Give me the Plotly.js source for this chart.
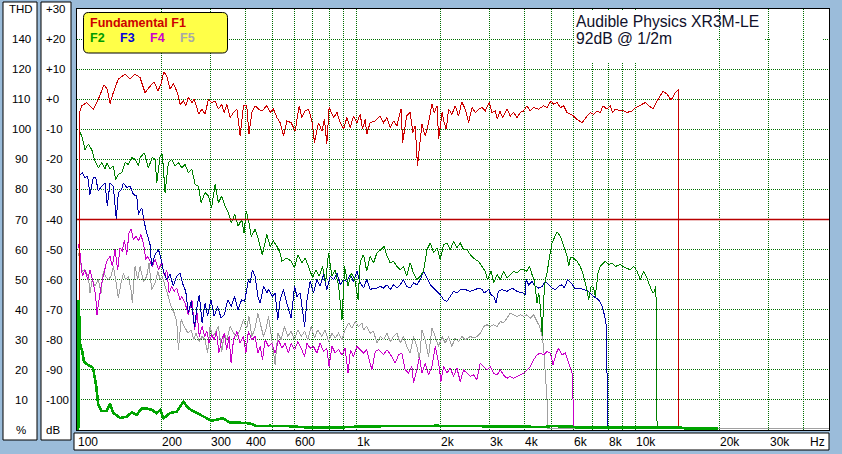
<!DOCTYPE html>
<html><head><meta charset="utf-8">
<script src="https://cdn.plot.ly/plotly-3.0.1.min.js"></script>
<style>html,body{margin:0;padding:0;background:#9bbcda;}#chart{width:842px;height:454px;}
.gridlayer path{shape-rendering:crispEdges !important;}
.scatterlayer path.js-line{shape-rendering:crispEdges;}</style>
</head><body><div id="chart"></div>
<script>
// ---- data: [frequency Hz, level dB] ----
const F1 = [[102,-67],[102.5,-3.9],[104,-2.2],[108.3,-1.1],[114.4,-3.3],[119.2,0],[125,4.8],[128.4,3.3],[131.3,-1.4],[134.9,2.2],[140.6,6.7],[148.6,8.3],[154.9,6.7],[161.4,8.3],[168.2,7.2],[175.3,2.2],[181.1,3.9],[188.8,5.8],[194.9,2.8],[200,5],[204.6,9.1],[209.7,7.8],[215.4,3.3],[221.4,5.3],[228.9,2.2],[233.9,-1.7],[240.5,-0.6],[245.2,-2.2],[250.6,0.6],[258,-1.1],[263,0],[273,-5],[280,-3.3],[287.6,-5],[295.5,0],[303.6,-1.1],[312.3,-0.6],[321,-3.3],[330,-1.7],[336.5,-4.4],[344,-1.7],[353.5,-6.1],[363.5,-4.4],[374,-3.3],[384,-12.2],[394.6,-2.2],[405.6,-2.2],[413,-11.7],[422.8,-4.4],[434.5,-2.2],[446.7,-3.3],[459.3,-3.9],[478.6,-2.2],[491.8,-4.4],[505.5,-3.3],[520,-6.1],[534,-7.8],[549,-12.2],[564.5,-7.2],[585,-7.8],[604.5,-10.6],[624.8,-2.2],[639,-6.1],[656.5,-3.9],[674.8,-3.3],[694,-7.2],[709,-14.4],[733,-7.8],[753.6,-10.6],[770,-6.7],[785,-15],[800,-2.8],[830,-6.1],[854,-4.4],[876,-7.8],[900.6,-10],[926,-6.1],[951.7,-9.4],[978,-5.6],[1006,-7.8],[1034,-5],[1053,-10],[1077,-6.7],[1091,-11.7],[1122,-7.8],[1170,-7.2],[1219,-5.6],[1253,-7.8],[1289,-6.1],[1324,-9.4],[1361,-7.2],[1399,-8.9],[1447,-3.3],[1467,-14.4],[1516,-5.6],[1561,-4.4],[1596,-11.1],[1627,-8.9],[1658,-22.2],[1686,-15.6],[1720,-8.3],[1767,-12.2],[1816,-7.8],[1868,-1.7],[1904,-4.4],[1948,-2.2],[1974,-13.3],[2031,-4.4],[2067,-7.8],[2102,-10],[2143,-3.3],[2202,-5],[2263,-2.2],[2326,-5.6],[2390,-0.9],[2458,-3.3],[2527,-7.8],[2599,-2.8],[2670,-4.4],[2744,-3.3],[2821,-2.8],[2899,-3.9],[3000,-0.9],[3058,-4.4],[3149,-3.9],[3203,-6.7],[3273,-3.9],[3341,-6.1],[3469,-3.3],[3564,-5.6],[3665,-4.4],[3770,-6.1],[3870,-4.4],[3978,-3.9],[4090,-2.2],[4204,-3.9],[4321,-2.8],[4500,-3.3],[4690,-2.2],[4820,-2.8],[4987,-0.6],[5097,-1.7],[5240,-1.1],[5384,-2.8],[5535,-2.2],[5690,-4.4],[5847,-5],[6010,-5.6],[6180,-6.7],[6440,-7.8],[6710,-5.6],[6896,-4.4],[7090,-5],[7290,-3.9],[7489,-4.4],[7655,-2.2],[7910,-3.3],[8133,-2.2],[8290,-4.4],[8475,-3.3],[8833,-3.9],[9080,-3.9],[9340,-4.4],[9730,-3.9],[10000,-2.8],[10420,-2],[10860,-1.1],[11160,-2.2],[11580,-3.1],[11960,-0.6],[12560,2.6],[12990,1.7],[13430,-0.3],[13910,2.2],[14300,3.3],[14330,-109]];

const F2 = [[101.7,-10.5],[104,-12.2],[106.8,-16.7],[109.8,-15],[112.9,-16.7],[116,-20.6],[119.2,-22.8],[122.6,-21.1],[126,-23.3],[127.8,-21.1],[131.3,-23.3],[134.9,-22.2],[137.6,-26.7],[140.6,-25],[144.6,-24.4],[148.6,-21.1],[152.7,-21.7],[157.1,-19.4],[161.4,-20],[166,-22.2],[168.2,-19.4],[174.3,-17.8],[180.1,-22.8],[186.1,-19.4],[190.4,-20],[193.1,-27.8],[198.4,-18.9],[202.2,-18.3],[206.8,-31.1],[212.5,-21.1],[218.5,-20],[224.5,-22.2],[230.8,-21.1],[237.3,-22.8],[243.8,-21.7],[250.6,-24.4],[257.9,-23.3],[264.8,-28.3],[272.2,-28.9],[278.2,-34.4],[287.6,-31.1],[295.5,-32.2],[303.6,-36.1],[312.3,-28.3],[321,-34.4],[330,-32.2],[339.3,-35.6],[348.8,-37.8],[357.2,-41.1],[367.4,-38.3],[377.7,-42.2],[388.8,-40],[396.4,-44.4],[404.2,-37.2],[412.8,-41.1],[420.8,-45.6],[434.5,-43.3],[446.7,-46.7],[461,-51.7],[478.6,-45],[491.8,-48.9],[505.5,-47.2],[520,-48.9],[534,-51.1],[541.6,-53.9],[564.5,-52.8],[585,-53.9],[601.5,-56.1],[618,-51.7],[639,-54.4],[656.5,-52.8],[674.8,-55.6],[697.7,-59.4],[718,-56.7],[737,-58.9],[757,-55.6],[778,-60.6],[796,-51.1],[819,-58.9],[840.9,-56.7],[865,-62.2],[889.5,-73.3],[909,-55.6],[935,-62.2],[960,-57.8],[988,-60],[1016,-66.7],[1034,-53.9],[1062,-51.7],[1091,-57.2],[1122,-52.2],[1154,-54.4],[1186,-51.1],[1226,-50],[1259,-48.9],[1289,-52.2],[1324,-54.4],[1361,-53.9],[1399,-55.6],[1438,-56.7],[1478,-55.6],[1516,-58.9],[1561,-54.4],[1604,-57.8],[1649,-60],[1696,-58.9],[1743,-57.2],[1793,-50],[1842,-47.8],[1893,-51.1],[1948,-49.4],[2000,-53.3],[2057,-48.3],[2114,-47.8],[2172,-50],[2233,-47.2],[2295,-49.4],[2359,-47.8],[2424,-50],[2492,-50],[2562,-51.7],[2670,-53.3],[2744,-53.9],[2821,-55.6],[2899,-57.2],[2955,-60],[3043,-57.2],[3110,-61.1],[3197,-58.3],[3281,-60],[3372,-57.2],[3469,-59.4],[3564,-58.3],[3665,-57.2],[3770,-57.8],[3870,-56.7],[3978,-56.7],[4090,-57.2],[4179,-55.6],[4263,-58.3],[4345,-60],[4443,-67.8],[4505,-64.4],[4565,-68.9],[4642,-78.9],[4690,-66.7],[4757,-60],[4825,-57.8],[4930,-52.2],[5030,-47.8],[5240,-44.1],[5384,-45.6],[5535,-48.9],[5690,-52.2],[5770,-55.6],[5847,-52.8],[6010,-52.8],[6180,-53.9],[6350,-55.6],[6530,-58.9],[6710,-63.3],[6800,-66.7],[6940,-62.2],[7090,-62.8],[7186,-65.6],[7350,-57.8],[7489,-55.6],[7804,-53.9],[8020,-55],[8250,-54.4],[8475,-55.6],[8833,-55],[9209,-56.1],[9597,-56.7],[9860,-55.6],[10140,-57.2],[10420,-60],[10700,-57.2],[10940,-58.9],[11160,-61.1],[11470,-63.9],[11620,-64.4],[11850,-62.2],[11880,-85.6],[11960,-109]];

const F3 = [[101.7,-25.6],[104.5,-24.4],[106.8,-26.1],[109.2,-25.6],[111.3,-31.7],[114.4,-26.1],[116.7,-26.1],[119.2,-30.6],[122.6,-28.9],[126,-27.8],[128.4,-35.6],[131.3,-27.8],[134.9,-28.9],[138.3,-40],[140.6,-31.1],[144.6,-30],[146.6,-27.8],[150.7,-29.4],[154.9,-28.9],[159.2,-31.7],[163.7,-32.2],[166,-38.3],[170.6,-36.1],[174.3,-41.1],[177.7,-44.4],[182.6,-48.3],[185.1,-55.6],[190.4,-51.7],[195.8,-50],[200.3,-53.3],[204,-57.2],[209.7,-60],[215.4,-58.3],[221.4,-62.2],[227.6,-58.9],[233.9,-57.8],[238.5,-61.1],[245.2,-63.9],[250.6,-71.1],[256.3,-67.2],[263.7,-75.6],[269.1,-68.9],[274.2,-65],[280.6,-74.4],[287.6,-67.8],[293.6,-72.2],[301.8,-66.7],[310,-72.2],[318.7,-68.9],[328.2,-72.8],[337,-71.7],[346.6,-66.7],[356.5,-68.9],[366.5,-65.6],[377.5,-70],[388.8,-66.7],[398,-67.2],[405.6,-63.3],[411,-60],[417,-61.1],[425,-56.7],[434.5,-58.9],[444.4,-65.6],[452.9,-67.8],[465.7,-62.2],[478.6,-64.4],[485,-63.3],[501,-65.6],[512.5,-64.4],[524,-73.3],[534,-66.7],[549,-63.3],[564.5,-67.8],[585,-72.8],[601.5,-62.2],[613.5,-65.6],[630,-64.4],[653.5,-75.6],[666.5,-66.7],[684,-60.6],[703,-64.4],[723,-60],[743,-62.2],[764,-58.3],[785,-63.3],[807,-58.9],[830,-60],[854,-57.8],[876,-61.7],[900.6,-60],[926,-60.6],[951.7,-58.3],[978,-60.6],[1006,-57.2],[1034,-61],[1062,-62.8],[1091,-60],[1122,-63.3],[1154,-62.8],[1186,-62.8],[1219,-62.2],[1253,-62.8],[1289,-61.7],[1324,-63.3],[1361,-61.7],[1399,-62.8],[1438,-61.7],[1478,-60],[1516,-62.2],[1561,-62.8],[1604,-61.1],[1649,-61.7],[1696,-60],[1743,-57.2],[1793,-59.4],[1842,-61.7],[1919,-63.3],[2000,-65],[2057,-66.7],[2114,-67.2],[2172,-65.6],[2233,-63.9],[2295,-64.4],[2359,-63.3],[2458,-63.3],[2562,-63.9],[2670,-63.3],[2744,-62.8],[2821,-63.3],[2876,-64.4],[2981,-63.3],[3043,-65],[3110,-65.6],[3170,-67.8],[3231,-63.9],[3320,-63.3],[3469,-63.9],[3623,-62.8],[3770,-63.9],[3944,-64.4],[4025,-65],[4060,-60],[4145,-61.7],[4263,-60.6],[4381,-62.2],[4505,-62.8],[4633,-62.2],[4757,-60.6],[4890,-61.7],[5030,-62.8],[5167,-63.3],[5310,-62.2],[5460,-61.7],[5565,-62.8],[5720,-60],[5890,-61.1],[6060,-62.8],[6290,-62.8],[6530,-63.3],[6800,-63.9],[7090,-65.6],[7390,-66.7],[7600,-68.9],[7770,-72.2],[7880,-75.6],[7920,-93.9],[7980,-109]];

const F4 = [[101.1,-48.3],[102.5,-51.1],[104.5,-58.9],[106.8,-56.7],[109.2,-60],[111.3,-56.7],[114.4,-61.1],[116.7,-65.6],[117.9,-71.7],[119.9,-66.7],[122.6,-61.1],[125.3,-57.2],[127.8,-53.9],[131.3,-52.2],[133.8,-55.6],[136.8,-50],[139.9,-56.7],[142.6,-49.4],[145.3,-50.6],[147.8,-46.7],[150.7,-51.7],[153.6,-44.4],[156.1,-43.1],[159.2,-46.7],[162.7,-45.6],[166,-47.2],[169.2,-45],[172.9,-47.8],[176.4,-53.3],[179.3,-52.2],[182.6,-53.9],[186.1,-55.6],[190.4,-53.3],[195.8,-56.7],[201.4,-54.4],[205.8,-58.9],[209.7,-56.7],[213.8,-64.4],[218.5,-62.2],[223,-63.9],[227.6,-62.8],[233.9,-66.7],[237.3,-65.6],[243.8,-67.8],[250.6,-71.7],[257.9,-66.7],[263.7,-76.7],[269.1,-71.1],[274.2,-78.9],[280.6,-75.6],[286.4,-78.9],[291.9,-77.2],[297.2,-81.1],[303.6,-78.3],[310,-80],[316,-77.2],[322.2,-84.4],[330,-80],[337,-77.8],[344,-83.3],[350.5,-78.9],[356.5,-87.8],[363.5,-80],[374,-77.2],[384,-81.1],[394.6,-78.9],[402.5,-84.4],[411,-77.2],[422.8,-80],[434.5,-78.9],[444.4,-84.4],[452.9,-82.2],[461.6,-86.7],[471.9,-80],[485,-82.2],[498.6,-81.1],[512.5,-84.4],[527,-80],[541.6,-82.8],[556.6,-81.1],[572,-84.4],[585,-81.1],[601.5,-83.3],[618,-80.6],[635,-82.8],[653.5,-85.6],[666.5,-81.1],[684,-82.8],[703,-82.2],[723,-84.4],[743,-81.1],[764,-83.9],[785,-82.8],[800,-88.9],[819,-82.2],[840.9,-84.4],[865,-83.3],[889.5,-85],[913,-82.8],[935,-91.1],[954,-83.3],[978,-85.6],[1006,-82.2],[1034,-83.3],[1062,-84.4],[1091,-83.3],[1138,-90],[1170,-83.9],[1202,-83.3],[1253,-85],[1289,-83.3],[1343,-85.6],[1380,-87.8],[1418,-85],[1457,-84.4],[1498,-90],[1540,-91.1],[1583,-88.9],[1604,-94.4],[1649,-90],[1685,-85.6],[1720,-91.1],[1767,-87.8],[1816,-91.7],[1868,-88.9],[1919,-82.2],[1974,-87.8],[2011,-93.9],[2057,-88.9],[2114,-91.1],[2172,-89.4],[2233,-92.2],[2295,-89.4],[2359,-93.9],[2424,-90],[2492,-91.1],[2562,-92.2],[2633,-91.7],[2707,-93.3],[2782,-87.8],[2860,-88.9],[2940,-90],[3022,-88.9],[3110,-91.1],[3197,-91.7],[3281,-90],[3372,-91.7],[3469,-92.8],[3564,-92.2],[3665,-92.8],[3770,-92.2],[3870,-91.7],[3978,-91.1],[4090,-90],[4204,-88.9],[4321,-86.7],[4443,-85],[4565,-84.4],[4690,-85],[4825,-83.9],[4958,-84.4],[5070,-88.3],[5210,-84.4],[5310,-82.8],[5460,-85],[5611,-84.4],[5770,-87.8],[5930,-91.1],[5980,-100],[6000,-109]];

const F5 = [[101.1,-51.1],[102.5,-53.3],[104.5,-57.2],[106.8,-56.7],[109.8,-58.9],[111.3,-64.4],[113.5,-60],[116,-62.2],[119.2,-60],[121.9,-64.4],[124.2,-57.2],[126.7,-58.9],[129.5,-60],[132.4,-58.9],[134.9,-55.6],[137.6,-60],[140.6,-66.1],[143.8,-61.1],[146.6,-57.8],[149.5,-60],[152.7,-58.9],[156.1,-63.3],[157.8,-67.8],[161.4,-55.6],[164.9,-60],[168.2,-55.6],[172.9,-60.6],[177.7,-58.9],[181.1,-54.4],[185.1,-63.3],[190.4,-61.1],[194.9,-57.2],[198.4,-60],[202.2,-58.9],[206.8,-62.2],[211.4,-65],[217.3,-68.9],[223,-71.1],[227.6,-73.9],[230.8,-83.3],[236,-73.3],[242.4,-75.6],[249.6,-77.8],[256.3,-76.7],[261.6,-80],[266.8,-77.8],[274.2,-80.6],[280.6,-78.9],[287.6,-80],[293.6,-84.4],[299.7,-75.6],[305.5,-78.9],[312.3,-77.8],[321,-75.6],[330,-83.9],[337,-77.8],[344,-80],[353.5,-75.6],[363.5,-77.8],[374,-78.9],[384,-76.7],[394.6,-73.3],[405.6,-76.1],[413,-72.2],[422.8,-78.9],[434.5,-76.1],[444.4,-71.1],[452.9,-74.4],[465.7,-78.9],[475,-76.7],[485,-72.2],[498.6,-80],[512.5,-88.3],[524,-77.8],[538.5,-80],[553,-75.6],[569,-78.9],[585,-77.2],[601.5,-80],[618,-76.7],[635,-78.9],[653.5,-77.2],[671,-80],[690,-75.6],[709,-79.4],[728,-76.7],[753.6,-78.9],[774.3,-76.7],[796,-80.6],[819,-77.8],[840.9,-79.4],[865,-77.8],[889.5,-80],[913,-76.7],[940,-74.4],[965,-76.1],[991.8,-73.9],[1020,-75.6],[1048,-74.4],[1062,-76.7],[1091,-75.6],[1122,-77.8],[1154,-77.2],[1186,-81.1],[1219,-78.9],[1253,-80],[1289,-77.8],[1324,-80.6],[1361,-78.9],[1399,-77.8],[1438,-81.1],[1478,-78.9],[1516,-82.2],[1561,-84.4],[1604,-78.9],[1649,-82.2],[1685,-86.7],[1720,-76.7],[1767,-80],[1816,-85.6],[1868,-76.1],[1919,-78.9],[1974,-82.2],[2031,-78.9],[2084,-81.1],[2143,-78.9],[2202,-82.2],[2263,-79.4],[2326,-80.6],[2390,-78.9],[2458,-80],[2562,-78.9],[2633,-79.4],[2707,-78.9],[2782,-77.8],[2860,-75.6],[2940,-75],[3022,-75.6],[3110,-75],[3197,-75.6],[3281,-73.9],[3372,-74.4],[3469,-72.8],[3564,-71.1],[3665,-71.7],[3770,-72.2],[3870,-71.7],[3978,-72.2],[4090,-71.7],[4204,-72.8],[4321,-71.7],[4443,-73.9],[4540,-75.6],[4633,-78.9],[4690,-82.2],[4757,-91.1],[4825,-100],[4840,-109.5],[50000,-109.5]];

// THD in percent: [frequency Hz, %]
const THD = [[101,0],[101.5,43.3],[102.3,30],[103,27.7],[104.2,26.7],[105.9,22.7],[109.5,21.7],[114.1,20.7],[117,15],[119.2,8.3],[122.6,6.3],[127.8,6.3],[131.3,8.8],[134.9,5.7],[142.6,4],[150.7,4.4],[157.1,5.9],[163.7,5],[170.6,7.2],[177.7,7.2],[185.1,6.7],[193.1,5.6],[198.4,6.7],[204,3.9],[215.4,5.6],[227.6,6.1],[240.5,9.4],[250.6,7.2],[269.1,5.6],[291.9,3.9],[303.6,3.1],[334,3.9],[353.5,2.4],[384,2.4],[417,2.2],[440,1.3],[491.8,1.4],[564.5,1.3],[684,0.8],[854,0.8],[1006,1.1],[1289,1.3],[1948,1.4],[2562,1.3],[3281,1.2],[4757,1],[4958,1.3],[5847,1.2],[6093,0.9],[14500,0.8],[15100,0.5],[19700,0.5]];

const GRID_X = [200,300,400,500,600,700,800,900,1000,2000,3000,4000,5000,6000,7000,8000,9000,10000,20000,30000,40000];
const X_LABEL_VALS = [100,200,300,400,600,1000,2000,3000,4000,6000,8000,10000,20000,30000];
const X_LABELS = ["100","200","300","400","600","1k","2k","3k","4k","6k","8k","10k","20k","30k"];
const DB_LEVELS = [30,20,10,0,-10,-20,-30,-40,-50,-60,-70,-80,-90,-100,-110];
const DB_LABELS = ["+30","+20","+10","+0","-10","-20","-30","-40","-50","-60","-70","-80","-90","-100","dB"];
const THD_LABELS = ["THD","140","120","110","100","90","80","70","60","50","40","30","20","10","%"];
const TITLE_1 = "Audible Physics XR3M-LE";
const TITLE_2 = "92dB @ 1/2m";

// ---- layout geometry ----
const W=842, H=454, L=77, R=13, T=9, B=24;
const PW=W-L-R, PH=H-T-B;
const X = p => (p-L)/PW;
const Y = p => (H-B-p)/PH;
const FONT = "Liberation Sans, Arial, sans-serif";

function series(pairs, name, color, width, yaxis){
  return {x: pairs.map(p=>p[0]), y: pairs.map(p=>p[1]), name, type:'scatter', mode:'lines',
    line:{color, width, simplify:false}, yaxis: yaxis||'y', hoverinfo:'skip'};
}
const traces = [
  series(F5,'F5','#a0a0a0',1),
  series(F4,'F4','#c800c8',1),
  series(F3,'F3','#0000a8',1),
  series(F2,'F2','#008000',1),
  series(F1,'F1','#cc0000',1),
  series(THD,'THD','#00a400',2.6,'y2')
];

function rect(x0,y0,x1,y1,fill,lc,lw,layer){
  return {type:'rect',xref:'paper',yref:'paper',x0:X(x0),x1:X(x1),y0:Y(y1),y1:Y(y0),
    fillcolor:fill,line:{color:lc||fill,width:lw||0},layer:layer||'above'};
}
function rrect(x0,y0,x1,y1,r){
  const P=(a,b)=>X(a)+','+Y(b);
  return 'M'+P(x0+r,y0)+' L'+P(x1-r,y0)+' Q'+P(x1,y0)+' '+P(x1,y0+r)+' L'+P(x1,y1-r)+' Q'+P(x1,y1)+' '+P(x1-r,y1)+
    ' L'+P(x0+r,y1)+' Q'+P(x0,y1)+' '+P(x0,y1-r)+' L'+P(x0,y0+r)+' Q'+P(x0,y0)+' '+P(x0+r,y0)+' Z';
}
const shapes = [
  rect(3,2,37,440,'#ffffff','#000000',1),
  rect(41,2,71,440,'#ffffff','#000000',1),
  rect(74,433,829,450,'#ffffff','#000000',1),
  // area behind title text
  rect(580,10,641,63,'#ffffff'),
  rect(574,36.5,716,41.5,'#ffffff'),
  rect(721,36.5,765,41.5,'#ffffff'),
  rect(770,36.5,800,41.5,'#ffffff'),
  rect(805,36.5,822,41.5,'#ffffff'),
  {type:'line',xref:'paper',yref:'y',x0:0,x1:1,y0:-40,y1:-40,line:{color:'#b80000',width:1.4},layer:'above'},
  {type:'path',xref:'paper',yref:'paper',path:rrect(83.5,12.5,227.5,53,5),fillcolor:'#ffff48',line:{color:'#000000',width:1},layer:'above'}
];

const annotations = [];
DB_LEVELS.forEach((v,i)=>{
  annotations.push({xref:'paper',yref:'y',x:X(44),y:v,xanchor:'left',yanchor:'middle',text:DB_LABELS[i],
    showarrow:false,font:{family:FONT,size:11.5,color:'#000'}});
  annotations.push({xref:'paper',yref:'y',x:X(21.5),y:v,xanchor:'center',yanchor:'middle',text:THD_LABELS[i],
    showarrow:false,font:{family:FONT,size:11.5,color:'#000'}});
});
X_LABEL_VALS.forEach((v,i)=>{
  annotations.push({xref:'x',yref:'paper',x:Math.log10(v),y:Y(441.5),xanchor:'left',yanchor:'middle',xshift:-1,
    text:X_LABELS[i],showarrow:false,font:{family:FONT,size:12,color:'#000'}});
});
annotations.push({xref:'paper',yref:'paper',x:X(827),y:Y(441.5),xanchor:'right',yanchor:'middle',text:'Hz',
  showarrow:false,font:{family:FONT,size:12,color:'#000'}});
annotations.push({xref:'paper',yref:'paper',x:X(574),y:Y(21.5),xanchor:'left',yanchor:'middle',text:TITLE_1,
  showarrow:false,font:{family:FONT,size:15.7,color:'#10102a'}});
annotations.push({xref:'paper',yref:'paper',x:X(574),y:Y(38),xanchor:'left',yanchor:'middle',text:TITLE_2,
  showarrow:false,font:{family:FONT,size:15.7,color:'#10102a'}});
// legend texts
const legendItems = [['Fundamental F1','#cc0000',87.5,23],['F2','#009a00',87.5,37.5],['F3','#0000dd',117.5,37.5],['F4','#cc00cc',147.5,37.5],['F5','#a8a8a8',178,37.5]];
legendItems.forEach(it=>{
  annotations.push({xref:'paper',yref:'paper',x:X(it[2]),y:Y(it[3]),xanchor:'left',yanchor:'middle',
    text:'<b>'+it[0]+'</b>',showarrow:false,font:{family:FONT,size:12.5,color:it[1]}});
});

const layout = {
  width:W,height:H,margin:{l:L,r:R,t:T,b:B,pad:0},
  paper_bgcolor:'#9bbcda',plot_bgcolor:'#ffffff',showlegend:false,
  xaxis:{type:'log',range:[2,4.6935],tickvals:GRID_X,showticklabels:false,ticks:'',
    showgrid:true,gridcolor:'#006e00',griddash:'1px,1px',gridwidth:1,zeroline:false,
    showline:true,mirror:true,linecolor:'#000000',linewidth:1,fixedrange:true},
  yaxis:{range:[-110,30],tickvals:[20,10,0,-10,-20,-30,-40,-50,-60,-70,-80,-90,-100],showticklabels:false,ticks:'',
    showgrid:true,gridcolor:'#006e00',griddash:'1px,1px',gridwidth:1,zeroline:false,
    showline:true,mirror:true,linecolor:'#000000',linewidth:1,fixedrange:true},
  yaxis2:{overlaying:'y',range:[0,140],visible:false,fixedrange:true},
  shapes, annotations
};
Plotly.newPlot('chart',traces,layout,{displayModeBar:false,staticPlot:true});
</script>
</body></html>
